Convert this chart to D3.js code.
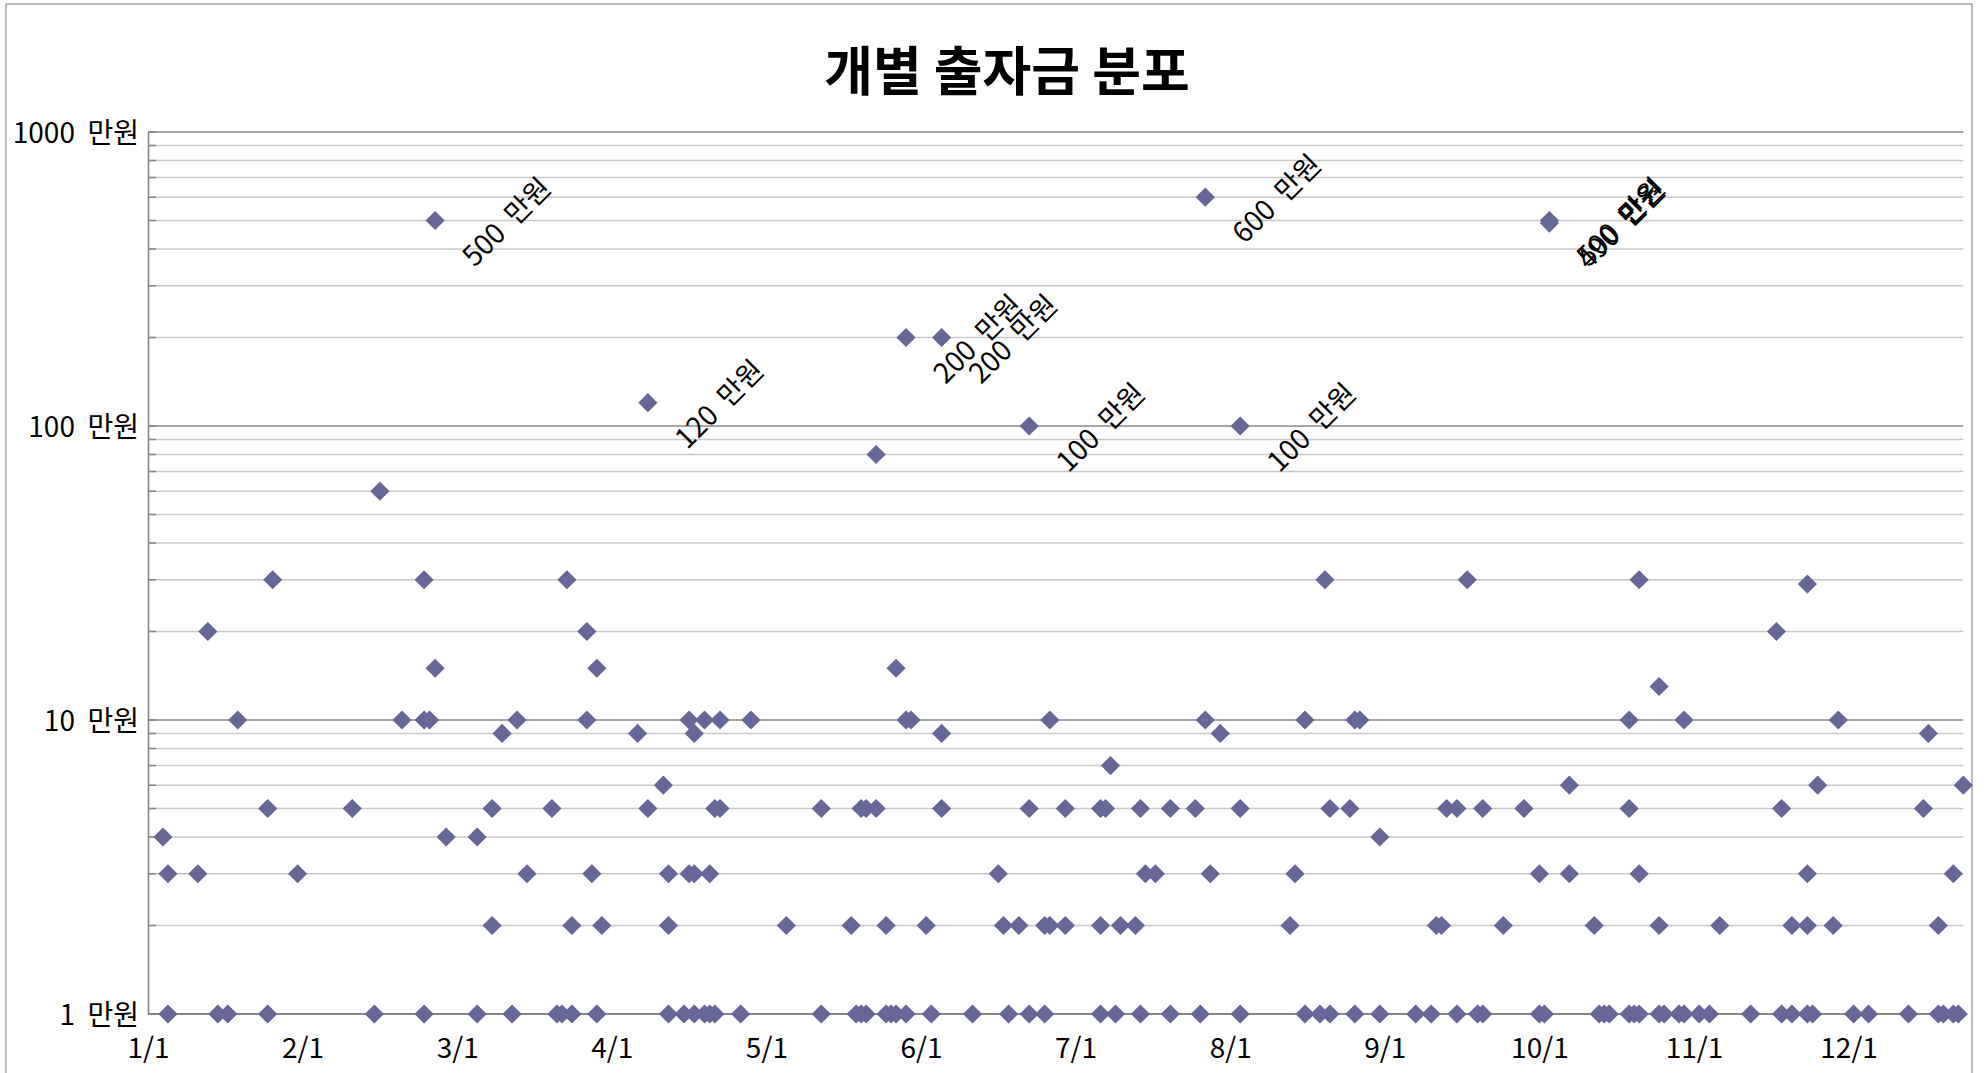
<!DOCTYPE html>
<html><head><meta charset="utf-8">
<script src="https://cdn.jsdelivr.net/npm/d3@7"></script>
<style>
html,body{margin:0;padding:0;background:#fff;}
svg{display:block;font-family:"Noto Sans CJK KR","Noto Sans",sans-serif;}
text{white-space:pre;}
</style></head><body>
<svg id="chart" width="1984" height="1073"></svg>
<script>
// ---------- data ----------
const chartTitle = "개별 출자금 분포";
const year = 2013;
const monthLabels = ["1/1","2/1","3/1","4/1","5/1","6/1","7/1","8/1","9/1","10/1","11/1","12/1"];
const yTickValues = [1, 10, 100, 1000];
const yTickLabels = ["1  만원", "10  만원", "100  만원", "1000  만원"];
const labelUnit = "만원";
const axisEndDate = "12-24";
// [month-day, amount (만원)]
const investments = [
  ["01-04",4],["01-05",1],["01-05",3],["01-11",3],["01-13",20],["01-15",1],["01-17",1],
  ["01-19",10],["01-25",1],["01-25",5],["01-26",30],["01-31",3],
  ["02-10",5],["02-14",1],["02-15",60],["02-19",10],["02-23",1],["02-23",10],["02-23",30],
  ["02-24",10],["02-25",15],["02-25",500],["02-27",4],
  ["03-05",1],["03-05",4],["03-08",2],["03-08",5],["03-10",9],["03-12",1],["03-13",10],
  ["03-15",3],["03-20",5],["03-21",1],["03-22",1],["03-23",30],["03-24",1],["03-24",2],
  ["03-27",10],["03-27",20],["03-28",3],["03-29",1],["03-29",15],["03-30",2],
  ["04-06",9],["04-08",5],["04-08",120],["04-11",6],["04-12",1],["04-12",2],["04-12",3],
  ["04-15",1],["04-16",3],["04-16",10],["04-17",1],["04-17",3],["04-17",9],["04-19",1],
  ["04-19",10],["04-20",1],["04-20",3],["04-21",1],["04-21",5],["04-22",5],["04-22",10],
  ["04-26",1],["04-28",10],
  ["05-05",2],["05-12",1],["05-12",5],["05-18",2],["05-19",1],["05-20",1],["05-20",5],
  ["05-21",1],["05-21",5],["05-23",5],["05-23",80],["05-25",1],["05-25",2],["05-26",1],
  ["05-27",1],["05-27",15],["05-29",1],["05-29",10],["05-29",200],["05-30",10],
  ["06-02",2],["06-03",1],["06-05",5],["06-05",9],["06-05",200],["06-11",1],["06-16",3],
  ["06-17",2],["06-18",1],["06-20",2],["06-22",1],["06-22",5],["06-22",100],["06-25",1],
  ["06-25",2],["06-26",2],["06-26",10],["06-29",2],["06-29",5],
  ["07-06",1],["07-06",2],["07-06",5],["07-07",5],["07-08",7],["07-09",1],["07-10",2],
  ["07-13",2],["07-14",1],["07-14",5],["07-15",3],["07-17",3],["07-20",1],["07-20",5],
  ["07-25",5],["07-26",1],["07-27",10],["07-27",600],["07-28",3],["07-30",9],
  ["08-03",1],["08-03",5],["08-03",100],["08-13",2],["08-14",3],["08-16",1],["08-16",10],
  ["08-19",1],["08-20",30],["08-21",1],["08-21",5],["08-25",5],["08-26",1],["08-26",10],
  ["08-27",10],["08-31",1],["08-31",4],
  ["09-07",1],["09-10",1],["09-11",2],["09-12",2],["09-13",5],["09-15",1],["09-15",5],
  ["09-17",30],["09-19",1],["09-20",1],["09-20",5],["09-24",2],["09-28",5],
  ["10-01",1],["10-01",3],["10-02",1],["10-03",490],["10-03",500],["10-07",3],["10-07",6],
  ["10-12",2],["10-13",1],["10-14",1],["10-15",1],["10-19",1],["10-19",5],["10-19",10],
  ["10-20",1],["10-21",1],["10-21",3],["10-21",30],["10-25",1],["10-25",2],["10-25",13],
  ["10-26",1],["10-29",1],["10-30",1],["10-30",10],
  ["11-02",1],["11-04",1],["11-06",2],["11-12",1],["11-17",20],["11-18",1],["11-18",5],
  ["11-20",1],["11-20",2],["11-23",1],["11-23",2],["11-23",3],["11-23",29],["11-24",1],
  ["11-25",6],["11-28",2],["11-29",10],
  ["12-02",1],["12-05",1],["12-13",1],["12-16",5],["12-17",9],["12-19",1],["12-19",2],
  ["12-20",1],["12-22",1],["12-22",3],["12-23",1],["12-24",6]
];
const labelThreshold = 100;

// ---------- layout ----------
const plotLeft = 148, plotTop = 132, plotBottom = 1014, monthW = 154.6;
const markerColor = "#666699";
const fontStack = '"Noto Sans CJK KR","Noto Sans",sans-serif';

const parse = d3.timeParse("%Y-%m-%d");
const toDate = md => parse(`${year}-${md}`);
const monthStarts = d3.range(13).map(i => new Date(year, i, 1));

const x = d3.scaleTime()
  .domain(monthStarts)
  .range(monthStarts.map((d, i) => plotLeft + i * monthW));
const plotRight = x(toDate(axisEndDate));
const y = d3.scaleLog().domain([1, 1000]).range([plotBottom, plotTop]);

const svg = d3.select("#chart");

// chart border
svg.append("rect").attr("x", 6).attr("y", 4).attr("width", 1966).attr("height", 1100)
  .attr("fill", "#fff").attr("stroke", "#a6a6a6").attr("stroke-width", 1.5);

// title
svg.append("text").attr("x", 1007).attr("y", 91).attr("text-anchor", "middle")
  .attr("font-size", 53).attr("font-weight", "bold").attr("fill", "#000").text(chartTitle);

// gridlines
const gridVals = y.ticks();
const isMajor = v => yTickValues.includes(v);
svg.append("g").selectAll("line").data(gridVals.filter(v => !isMajor(v))).join("line")
  .attr("x1", plotLeft).attr("x2", plotRight)
  .attr("y1", d => y(d)).attr("y2", d => y(d))
  .attr("stroke", "#c8c8c8").attr("stroke-width", 1.5);
svg.append("g").selectAll("line").data(yTickValues.filter(v => v > 1)).join("line")
  .attr("x1", plotLeft).attr("x2", plotRight)
  .attr("y1", d => y(d)).attr("y2", d => y(d))
  .attr("stroke", "#a6a6a6").attr("stroke-width", 1.8);

// y axis
const yAxis = d3.axisLeft(y).tickValues(yTickValues)
  .tickFormat((d, i) => yTickLabels[i]).tickSize(0).tickPadding(9);
const gy = svg.append("g").attr("transform", `translate(${plotLeft},0)`).call(yAxis);
gy.select(".domain").attr("stroke", "#868686").attr("stroke-width", 1.6);
gy.selectAll("text").attr("font-size", 28).attr("fill", "#000")
  .attr("font-family", fontStack).attr("dy", "0.38em");
// inside minor ticks
svg.append("g").selectAll("line").data(gridVals).join("line")
  .attr("x1", plotLeft).attr("x2", plotLeft + 8)
  .attr("y1", d => y(d)).attr("y2", d => y(d))
  .attr("stroke", "#868686").attr("stroke-width", 1.5);

// x axis
const xAxis = d3.axisBottom(x).tickValues(monthStarts.slice(0, 12))
  .tickFormat((d, i) => monthLabels[i]).tickSize(0).tickPadding(24);
const gx = svg.append("g").attr("transform", `translate(0,${plotBottom})`).call(xAxis);
gx.select(".domain").attr("d", `M${plotLeft},0H${plotRight}`)
  .attr("stroke", "#868686").attr("stroke-width", 2);
gx.selectAll("text").attr("font-size", 28).attr("fill", "#000")
  .attr("font-family", fontStack);

// markers
const r = 9.6;
const diamond = `M0,${-r}L${r},0L0,${r}L${-r},0Z`;
const pts = investments.map(([md, v]) => ({ date: toDate(md), v }));
svg.append("g").selectAll("path").data(pts).join("path")
  .attr("d", diamond)
  .attr("transform", d => `translate(${x(d.date)},${y(d.v)})`)
  .attr("fill", markerColor);

// data labels
svg.append("g").selectAll("text").data(pts.filter(d => d.v >= labelThreshold)).join("text")
  .attr("transform", d => `translate(${x(d.date) + 70},${y(d.v)}) rotate(-45)`)
  .attr("text-anchor", "middle").attr("dominant-baseline", "central")
  .attr("font-size", 28).attr("fill", "#000")
  .text(d => `${d.v}  ${labelUnit}`);
</script>
</body></html>
